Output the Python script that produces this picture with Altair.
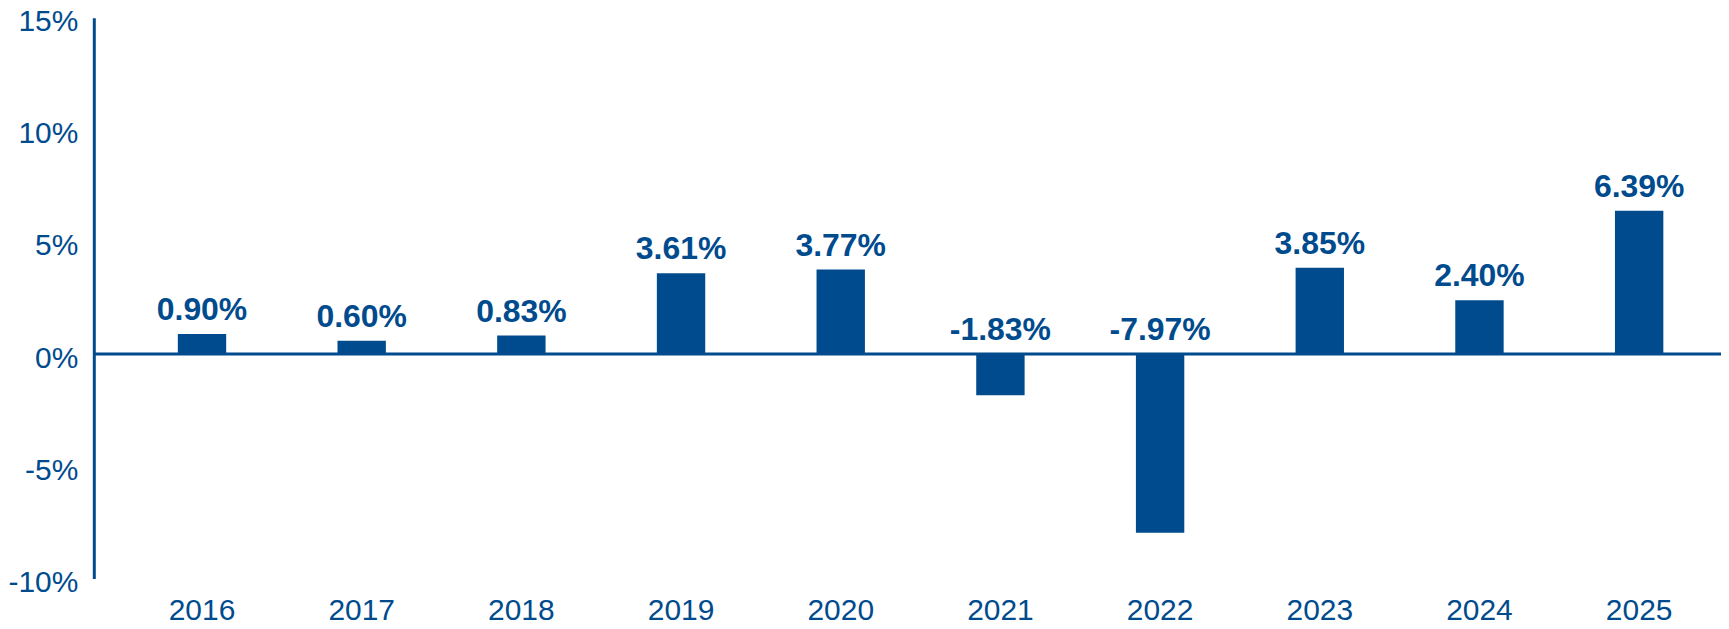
import altair as alt
import pandas as pd

years = ["2016", "2017", "2018", "2019", "2020", "2021", "2022", "2023", "2024", "2025"]
returns = [0.90, 0.60, 0.83, 3.61, 3.77, -1.83, -7.97, 3.85, 2.40, 6.39]
y_ticks = [-10, -5, 0, 5, 10, 15]

BLUE = "#004B8D"
FONT = "Liberation Sans"
W, H = 1631, 562

df = pd.DataFrame({"year": years, "value": returns})

x_scale = alt.Scale(paddingInner=0.697, paddingOuter=0.4436, align=0.593)
y_scale = alt.Scale(domain=[-10, 15], nice=False, zero=False)

base = alt.Chart(df)

bars = base.mark_bar(color=BLUE).encode(
    x=alt.X("year:N", scale=x_scale, sort=years,
            axis=alt.Axis(title=None, domain=False, ticks=False, grid=False, labelAngle=0,
                          labelFont=FONT, labelFontSize=30, labelColor=BLUE,
                          labelPadding=17)),
    y=alt.Y("value:Q", scale=y_scale,
            axis=alt.Axis(title=None, values=y_ticks, labelExpr="datum.value + '%'",
                          grid=False, ticks=False, domain=True, domainColor=BLUE,
                          domainWidth=3, labelFont=FONT, labelFontSize=30,
                          labelColor=BLUE, labelPadding=16, labelOffset=4)),
)

labels = base.transform_calculate(
    label="(datum.value < 0 ? '-' : '') + format(abs(datum.value), '.2f') + '%'",
    ypos="max(datum.value, 0)",
).mark_text(
    color=BLUE, font=FONT, fontSize=32, fontWeight="bold",
    baseline="alphabetic", dy=-14,
).encode(
    x=alt.X("year:N", scale=x_scale, sort=years),
    y=alt.Y("ypos:Q", scale=y_scale),
    text="label:N",
)

zero = alt.Chart(pd.DataFrame({"z": [0]})).mark_rule(color=BLUE, strokeWidth=3).encode(
    y=alt.Y("z:Q", scale=y_scale),
    x=alt.value(0),
    x2=alt.value(W),
)

chart = alt.layer(bars, zero, labels).properties(
    width=W, height=H,
    padding={"left": 86, "top": 9, "right": 0, "bottom": 50},
    autosize=alt.AutoSizeParams(type="none"),
    background="white",
).configure_view(stroke=None)

chart.save("out.html", embed_options={"renderer": "svg", "actions": False})
